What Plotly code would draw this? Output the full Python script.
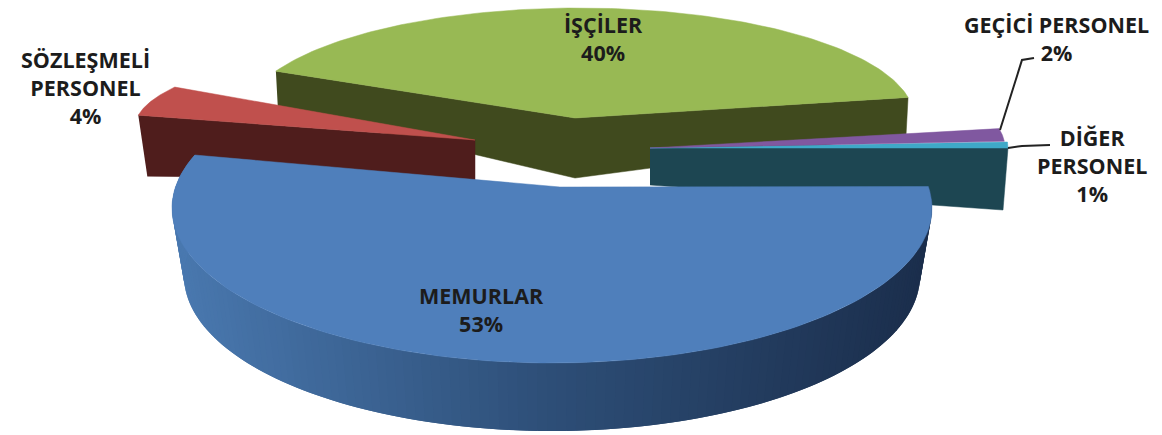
import numpy as np
import plotly.graph_objects as go

categories = ["MEMURLAR", "SÖZLEŞMELİ PERSONEL", "İŞÇİLER", "GEÇİCİ PERSONEL", "DİĞER PERSONEL"]
values = [53, 4, 40, 2, 1]
percent_labels = [f"{v}%" for v in values]

# geometry of the exploded, tilted pie (pixel space)
W, H = 1162, 435
TOP = {"MEMURLAR": "#4f7fbb", "SÖZLEŞMELİ PERSONEL": "#c0504d", "İŞÇİLER": "#98b954",
       "GEÇİCİ PERSONEL": "#8058a0", "DİĞER PERSONEL": "#3fa9c8"}
GEOM = {  # apex x, apex y, rim offset x, rim offset y, semi-axis a, semi-axis b, perspective stretch, shift (deg)
    "MEMURLAR": (560, 187, -8, 21, 380, 155, 1.09, 0.6),
    "SÖZLEŞMELİ PERSONEL": (475, 140, 0, -13, 340, 85, 1.39, 0),
    "İŞÇİLER": (575, 118, 4, 0, 335, 110, 1, 0),
    "GEÇİCİ PERSONEL": (650, 148, 0, 0, 355, 107, 1, 0),
    "DİĞER PERSONEL": (650, 148, 0, 0, 358, 107, 1, 0),
}
total = sum(values)
edges = np.cumsum([0] + values) / total * 2 * np.pi
span = {c: (edges[i], edges[i + 1]) for i, c in enumerate(categories)}

fig = go.Figure()


def poly(xs, ys, color, lw=0.5):
    fig.add_trace(go.Scatter(x=list(xs), y=list(ys), mode="lines", fill="toself", fillcolor=color,
                             line=dict(color=color, width=lw), hoverinfo="skip", showlegend=False))


def angles(c, n=120):
    _, _, _, _, _, _, stretch, shift = GEOM[c]
    lo, hi = span[c]
    mid = (lo + hi) / 2 + np.radians(shift)
    half = (hi - lo) / 2 * stretch
    return np.linspace(mid - half, mid + half, n)


def rim(c, n=120):
    cx, cy, ox, oy, a, b, _, _ = GEOM[c]
    t = angles(c, n)
    return cx + ox + a * np.cos(t), cy + oy + b * np.sin(t)


def top(c):
    cx, cy = GEOM[c][:2]
    x, y = rim(c)
    poly(np.r_[cx, x, cx], np.r_[cy, y, cy], TOP[c])


# İşçiler
c = "İŞÇİLER"
cx, cy = GEOM[c][:2]
x, y = rim(c)
poly([x[0], cx, x[-1], x[-1] - 2, cx, x[0] + 2],
     [y[0], cy, y[-1], y[-1] + 37, cy + 60, y[0] + 37], "#404a1e")
top(c)

# Sözleşmeli
c = "SÖZLEŞMELİ PERSONEL"
cx, cy = GEOM[c][:2]
x, y = rim(c)
poly([x[0], cx, cx, x[0] + 9], [y[0], cy, cy + 40, y[0] + 61], "#4f1d1c")
top(c)

# Diğer / Geçici
c = "DİĞER PERSONEL"
cx, cy = GEOM[c][:2]
x, y = rim(c)
poly([cx, x[-1], x[-1] - 5, cx], [cy, y[-1], y[-1] + 62, cy + 37], "#1d4652")
top(c)
top("GEÇİCİ PERSONEL")

# Memurlar outer wall with horizontal shading
c = "MEMURLAR"
cx, cy, ox, oy, a, b, _, _ = GEOM[c]
DEPTH, A2 = 68, 368
t = angles(c, 140)
stops = np.array([[0x1b, 0x2e, 0x4c], [0x2e, 0x4f, 0x78], [0x4a, 0x79, 0xb0]], float)
for i in range(len(t) - 1):
    f = (1 - np.cos(t[i])) / 2
    if f < .5:
        col = stops[0] + (stops[1] - stops[0]) * f / .5
    else:
        col = stops[1] + (stops[2] - stops[1]) * (f - .5) / .5
    color = "rgb(%d,%d,%d)" % tuple(col)
    pts = t[i:i + 3]  # overlap the next strip so no seams show
    ex, ey = cx + ox, cy + oy
    poly([*(ex + a * np.cos(pts)), *(ex + A2 * np.cos(pts[::-1]))],
         [*(ey + b * np.sin(pts)), *(ey + DEPTH + b * np.sin(pts[::-1]))], color, lw=0)
top(c)

# leader lines
for lx, ly in [([1000, 1022, 1034], [130, 60, 58]), ([1008, 1022, 1050], [148, 146, 145])]:
    fig.add_trace(go.Scatter(x=lx, y=ly, mode="lines", line=dict(color="#222222", width=2),
                             hoverinfo="skip", showlegend=False))

# labels
LABELS = {
    "MEMURLAR": ("MEMURLAR", 481, 309),
    "SÖZLEŞMELİ PERSONEL": ("SÖZLEŞMELİ<br>PERSONEL", 85, 87),
    "İŞÇİLER": ("İŞÇİLER", 603, 38),
    "GEÇİCİ PERSONEL": ("GEÇİCİ PERSONEL", 1056, 38),
    "DİĞER PERSONEL": ("DİĞER<br>PERSONEL", 1092, 165),
}
for i, c in enumerate(categories):
    txt, lx, ly = LABELS[c]
    fig.add_annotation(x=lx, y=ly, text=f"{txt}<br>{percent_labels[i]}", showarrow=False,
                       font=dict(family="Open Sans", size=21.5, color="#1c1c1c", weight="bold"),
                       xanchor="center", yanchor="middle", align="center")

fig.update_layout(
    width=W, height=H, autosize=False, margin=dict(l=0, r=0, t=0, b=0),
    paper_bgcolor="white", plot_bgcolor="white", showlegend=False,
    xaxis=dict(range=[0, W], visible=False, fixedrange=True),
    yaxis=dict(range=[H, 0], visible=False, fixedrange=True),
)
fig.write_html("out.html", config={"displayModeBar": False},
               post_script="document.body.style.margin='0';")
